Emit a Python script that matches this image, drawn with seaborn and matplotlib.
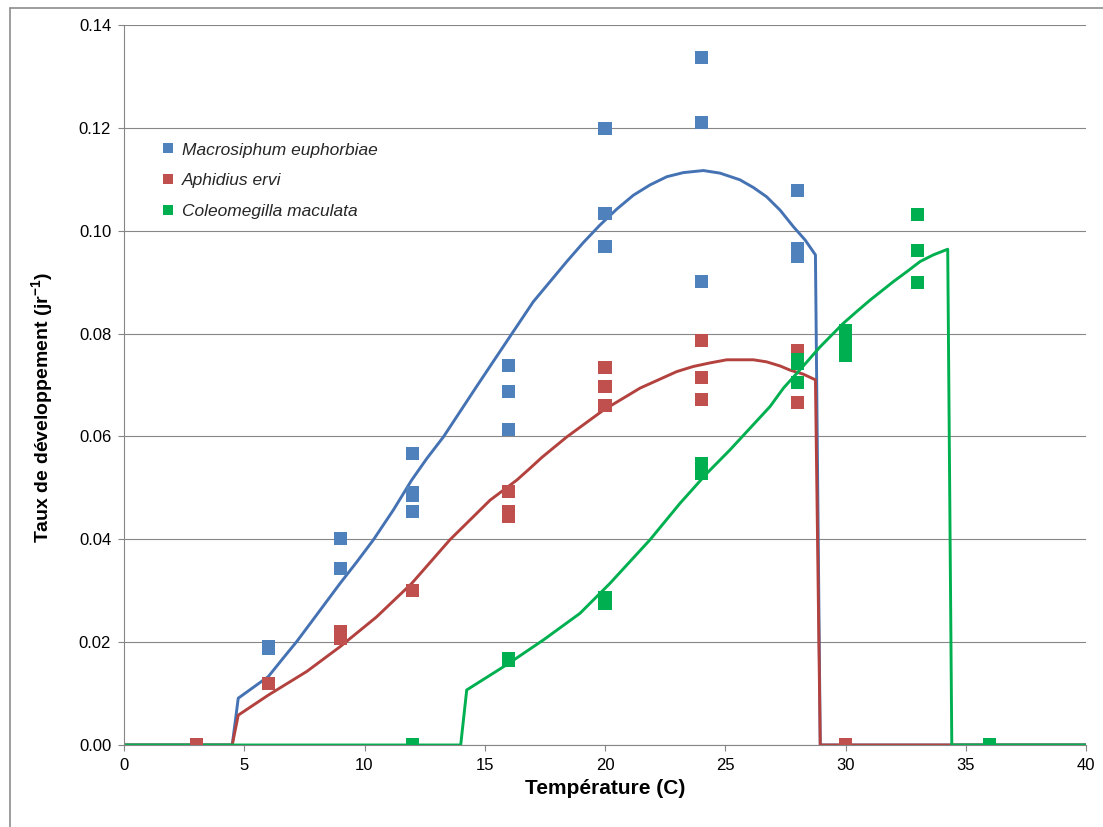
import matplotlib
matplotlib.use("Agg")
import matplotlib.pyplot as plt
from matplotlib.lines import Line2D
import seaborn as sns
import pandas as pd

# ---------------- data ----------------
species = ["Macrosiphum euphorbiae", "Aphidius ervi", "Coleomegilla maculata"]

# observed points
me_temp = [6, 6, 9, 9, 12, 12, 12, 12, 16, 16, 16, 20, 20, 20, 24, 24, 24, 28, 28, 28]
me_rate = [0.0192, 0.0188, 0.0401, 0.0344, 0.0567, 0.0490, 0.0486, 0.0454,
           0.0738, 0.0687, 0.0614, 0.1198, 0.1033, 0.0969, 0.1336, 0.1210, 0.0901,
           0.1079, 0.0966, 0.0950]

ae_temp = [3, 6, 9, 9, 12, 16, 16, 16, 20, 20, 20, 24, 24, 24, 28, 28, 30]
ae_rate = [0.0, 0.0120, 0.0221, 0.0207, 0.0301, 0.0493, 0.0454, 0.0445,
           0.0734, 0.0698, 0.0661, 0.0786, 0.0714, 0.0671, 0.0768, 0.0666, 0.0]

cm_temp = [12, 16, 16, 20, 20, 24, 24, 24, 28, 28, 28, 30, 30, 30, 33, 33, 33, 36]
cm_rate = [0.0, 0.0169, 0.0165, 0.0286, 0.0275, 0.0547, 0.0538, 0.0528,
           0.0749, 0.0742, 0.0704, 0.0805, 0.0778, 0.0758, 0.1031, 0.0961, 0.0899, 0.0]

# model curves
me_curve_x = [0, 4.5, 4.75, 6.0, 6.62, 7.18, 8.01, 8.98, 9.68, 10.37, 11.2, 11.96, 12.59,
              13.28, 13.97, 14.66, 15.63, 17.02, 18.41, 19.1, 19.79, 20.49, 21.18, 21.87,
              22.57, 23.26, 24.09, 24.78, 25.61, 26.17, 26.72, 27.28, 27.83, 28.32,
              28.75, 28.95, 40]
me_curve_y = [0, 0, 0.0091, 0.0133, 0.0169, 0.0201, 0.0253, 0.0314, 0.0356, 0.0399,
              0.0457, 0.0515, 0.0557, 0.0599, 0.0648, 0.0697, 0.0765, 0.0862, 0.0940,
              0.0977, 0.1011, 0.1042, 0.1069, 0.1089, 0.1105, 0.1113, 0.1117, 0.1112,
              0.1099, 0.1084, 0.1066, 0.1040, 0.1008, 0.0982, 0.0953, 0, 0]

ae_curve_x = [0, 4.5, 4.75, 6.0, 7.6, 8.98, 10.5, 11.96, 13.55, 15.22, 16.33, 16.88,
              17.37, 18.41, 19.93, 21.46, 22.98, 23.67, 24.37, 25.06, 25.61, 26.17,
              26.72, 27.28, 27.69, 28.25, 28.75, 28.95, 40]
ae_curve_y = [0, 0, 0.0058, 0.0097, 0.0143, 0.0191, 0.0249, 0.0314, 0.0399, 0.0476,
              0.0515, 0.0538, 0.0559, 0.0599, 0.0651, 0.0694, 0.0726, 0.0736, 0.0743,
              0.0749, 0.0749, 0.0749, 0.0745, 0.0737, 0.0729, 0.0721, 0.0710, 0, 0]

cm_curve_x = [0, 14.0, 14.25, 15.91, 17.43, 18.96, 20.2, 21.87, 23.12, 24.23, 25.2,
              26.03, 26.86, 27.42, 28.04, 28.94, 29.91, 30.47, 31.02, 31.99, 32.54,
              33.1, 33.65, 34.25, 34.42, 40]
cm_curve_y = [0, 0, 0.0107, 0.0156, 0.0204, 0.0256, 0.0314, 0.0399, 0.0470, 0.0528,
              0.0574, 0.0616, 0.0658, 0.0694, 0.0726, 0.0774, 0.0820, 0.0843, 0.0865,
              0.0901, 0.0920, 0.0940, 0.0953, 0.0964, 0, 0]

x_ticks = [0, 5, 10, 15, 20, 25, 30, 35, 40]
y_ticks = [0.00, 0.02, 0.04, 0.06, 0.08, 0.10, 0.12, 0.14]

marker_colors = ["#4F81BD", "#C0504D", "#00B050"]
line_colors = ["#4472B3", "#B3423F", "#00B050"]

# ---------------- style ----------------
sns.set_theme(style="white")
plt.rcParams["font.family"] = ["Liberation Sans", "DejaVu Sans"]
plt.rcParams["mathtext.fontset"] = "custom"
plt.rcParams["mathtext.rm"] = "Liberation Sans"
plt.rcParams["mathtext.bf"] = "Liberation Sans:bold"

points = pd.DataFrame({
    "temp": me_temp + ae_temp + cm_temp,
    "rate": me_rate + ae_rate + cm_rate,
    "species": [species[0]] * len(me_temp) + [species[1]] * len(ae_temp)
               + [species[2]] * len(cm_temp),
})

fig = plt.figure(figsize=(11.03, 8.27), dpi=100)
ax = fig.add_axes([124 / 1103, 1 - 745 / 827, 962 / 1103, 720 / 827])

curves = [(me_curve_x, me_curve_y), (ae_curve_x, ae_curve_y), (cm_curve_x, cm_curve_y)]
for (cx, cy), col in zip(curves, line_colors):
    sns.lineplot(x=cx, y=cy, ax=ax, color=col, linewidth=2.1, estimator=None,
                 sort=False, legend=False, zorder=2)

sns.scatterplot(data=points, x="temp", y="rate", hue="species", hue_order=species,
                palette=marker_colors, marker="s", s=88, linewidth=0, ax=ax,
                zorder=3, legend=True)

ax.set_xlim(0, 40)
ax.set_ylim(0, 0.14)
ax.set_xticks(x_ticks)
ax.set_xticklabels([str(t) for t in x_ticks])
ax.set_yticks(y_ticks)
ax.set_yticklabels([f"{t:.2f}" for t in y_ticks])

grid_col = "#868686"
ax.yaxis.grid(True, color=grid_col, linewidth=0.8, zorder=0)
ax.xaxis.grid(False)
ax.set_axisbelow(True)
for side in ["top", "right"]:
    ax.spines[side].set_visible(False)
for side in ["left", "bottom"]:
    ax.spines[side].set_color(grid_col)
    ax.spines[side].set_linewidth(0.8)

ax.tick_params(axis="both", which="major", direction="out", length=4.2, width=0.8,
               color=grid_col, labelsize=12, labelcolor="black")
ax.tick_params(axis="x", pad=5, bottom=True)
ax.tick_params(axis="y", pad=5, left=True)

ax.set_xlabel("Température (C)", fontsize=15, fontweight="bold", color="black")
ax.set_ylabel(r"Taux de développement (jr$\mathbf{^{-1}}$)", fontsize=14,
              fontweight="bold", color="black")
ax.xaxis.set_label_coords(0.5, -0.047)
ax.yaxis.set_label_coords(-0.0717, 0.469)

handles, labels = ax.get_legend_handles_labels()
leg = ax.legend(handles, labels, loc="upper left", bbox_to_anchor=(0.0385, 0.837),
                frameon=False, borderaxespad=0, borderpad=0, handlelength=0.8,
                handletextpad=0.4, labelspacing=0.91, markerscale=0.75,
                prop={"size": 12.5, "style": "italic", "family": "Liberation Sans"})

# outer frame (left and top edges)
fig.add_artist(Line2D([9.5 / 1103, 9.5 / 1103], [0, 1 - 7.5 / 827],
                      color="#8C8C8C", linewidth=1.2, transform=fig.transFigure))
fig.add_artist(Line2D([9.5 / 1103, 1], [1 - 7.5 / 827, 1 - 7.5 / 827],
                      color="#8C8C8C", linewidth=1.2, transform=fig.transFigure))

fig.savefig("out.png", dpi=100)
